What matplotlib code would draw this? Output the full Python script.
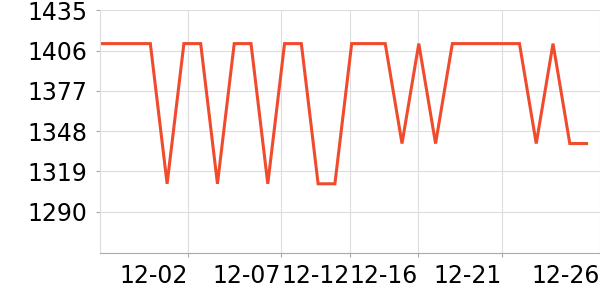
import matplotlib
matplotlib.use("Agg")
import matplotlib.pyplot as plt

values = [1411, 1411, 1411, 1411, 1310, 1411, 1411, 1310, 1411, 1411,
          1310, 1411, 1411, 1310, 1310, 1411, 1411, 1411, 1339, 1411,
          1339, 1411, 1411, 1411, 1411, 1411, 1339, 1411, 1339, 1339]
tick_labels = ["12-02", "12-07", "12-12", "12-16", "12-21", "12-26"]
tick_pos = [5.26, 10.8, 14.9, 18.96, 23.96, 29.8]
y_ticks = [1290, 1319, 1348, 1377, 1406, 1435]

fig = plt.figure(figsize=(6, 3), dpi=100)
ax = fig.add_axes([100/600, 1 - 252.5/300, 500/600, (252.5 - 10.3)/300])
ax.plot(range(len(values)), values, color="#f04b2d", lw=2.2, solid_joinstyle="miter")
ax.set_xlim(0, 29.8)
ax.set_ylim(1260.5, 1435)
ax.set_yticks(y_ticks)
ax.set_xticks(tick_pos)
ax.set_xticklabels(tick_labels, ha="right")
ax.grid(True, color="#dddddd", lw=0.8)
ax.set_axisbelow(True)
for s in ["top", "right"]:
    ax.spines[s].set_visible(False)
ax.spines["left"].set_color("#dddddd")
ax.spines["bottom"].set_color("#aaaaaa")
ax.tick_params(axis="both", labelsize=17, colors="#aaaaaa", labelcolor="black", length=3, width=0.8)
ax.tick_params(axis="x", pad=5)
ax.tick_params(axis="y", pad=6)
fig.savefig("out.png", dpi=100)
